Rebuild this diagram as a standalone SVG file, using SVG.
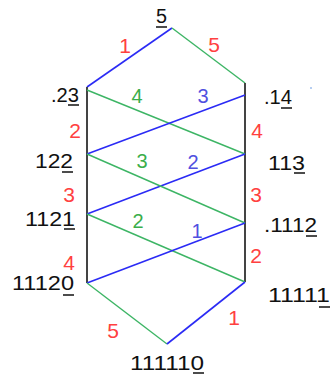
<svg xmlns="http://www.w3.org/2000/svg" width="332" height="381" viewBox="0 0 332 381">
<style>
.b{stroke:#2b2bf5;stroke-width:1.6;fill:none}
.g{stroke:#3db565;stroke-width:1.4;fill:none}
.k{stroke:#444;stroke-width:2;fill:none}
.u{stroke:#111;stroke-width:1.5}
text{font-family:"Liberation Sans",Arial,sans-serif}
.n{font-size:20px;fill:#111}
.r{font-size:21px;fill:#ff4040}
.tg{font-size:20px;fill:#3aae4a}
.tb{font-size:20px;fill:#5050e0}
</style>
<rect width="332" height="381" fill="#fff"/>
<g id="connectors">
<line class="b" x1="87" y1="87" x2="172" y2="28"/>
<line class="g" x1="172" y1="28" x2="245" y2="83"/>
<line class="k" x1="87" y1="87" x2="87" y2="283"/>
<line class="k" x1="245" y1="83" x2="245" y2="282"/>
<line class="g" x1="87" y1="90" x2="245" y2="154"/>
<line class="b" x1="87" y1="154" x2="245" y2="95"/>
<line class="b" x1="87" y1="214" x2="245" y2="154"/>
<line class="g" x1="87" y1="154" x2="245" y2="223"/>
<line class="g" x1="87" y1="214" x2="245" y2="282"/>
<line class="b" x1="87" y1="283" x2="245" y2="223"/>
<line class="g" x1="87" y1="283" x2="167" y2="344"/>
<line class="b" x1="167" y1="344" x2="245" y2="282"/>
</g>
<g id="edge-labels">
<text class="r" x="125" y="53" text-anchor="middle">1</text>
<text class="r" x="214" y="52" text-anchor="middle">5</text>
<text class="tg" x="137" y="103" text-anchor="middle">4</text>
<text class="tb" x="203" y="103" text-anchor="middle">3</text>
<text class="r" x="75" y="138" text-anchor="middle">2</text>
<text class="r" x="257" y="138" text-anchor="middle">4</text>
<text class="tg" x="142" y="168" text-anchor="middle">3</text>
<text class="tb" x="193" y="169" text-anchor="middle">2</text>
<text class="r" x="69" y="202" text-anchor="middle">3</text>
<text class="r" x="256" y="202" text-anchor="middle">3</text>
<text class="tg" x="138" y="228" text-anchor="middle">2</text>
<text class="tb" x="197" y="238" text-anchor="middle">1</text>
<text class="r" x="256" y="263" text-anchor="middle">2</text>
<text class="r" x="69" y="270" text-anchor="middle">4</text>
<text class="r" x="113" y="338" text-anchor="middle">5</text>
<text class="r" x="234" y="325" text-anchor="middle">1</text>
</g>
<g id="n5"><text class="n" x="156" y="23" textLength="11" lengthAdjust="spacingAndGlyphs">5</text><line class="u" x1="156" y1="27" x2="167" y2="27"/></g>
<g id="n23"><text class="n" x="51" y="102" textLength="28" lengthAdjust="spacingAndGlyphs">.23</text><line class="u" x1="68" y1="105" x2="79" y2="105"/></g>
<g id="n14"><text class="n" x="264" y="104" textLength="28" lengthAdjust="spacingAndGlyphs">.14</text><line class="u" x1="281" y1="108" x2="292" y2="108"/></g>
<g id="dot"><circle cx="311" cy="88" r="0.8" fill="#5a8fe0"/></g>
<g id="n122"><text class="n" x="35" y="168" textLength="38" lengthAdjust="spacingAndGlyphs">122</text><line class="u" x1="62" y1="172" x2="73" y2="172"/></g>
<g id="n113"><text class="n" x="268" y="170" textLength="37" lengthAdjust="spacingAndGlyphs">113</text><line class="u" x1="294" y1="173" x2="305" y2="173"/></g>
<g id="n1121"><text class="n" x="25" y="226" textLength="50" lengthAdjust="spacingAndGlyphs">1121</text><line class="u" x1="64" y1="229" x2="75" y2="229"/></g>
<g id="n1112"><text class="n" x="264" y="232" textLength="53" lengthAdjust="spacingAndGlyphs">.1112</text><line class="u" x1="306" y1="236" x2="317" y2="236"/></g>
<g id="n11120"><text class="n" x="12" y="290" textLength="62" lengthAdjust="spacingAndGlyphs">11120</text><line class="u" x1="63" y1="295" x2="74" y2="295"/></g>
<g id="n11111"><text class="n" x="268" y="302" textLength="62" lengthAdjust="spacingAndGlyphs">11111</text><line class="u" x1="319" y1="307" x2="330" y2="307"/></g>
<g id="n111110"><text class="n" x="130" y="370" textLength="74" lengthAdjust="spacingAndGlyphs">111110</text><line class="u" x1="193" y1="373" x2="204" y2="373"/></g>
</svg>
